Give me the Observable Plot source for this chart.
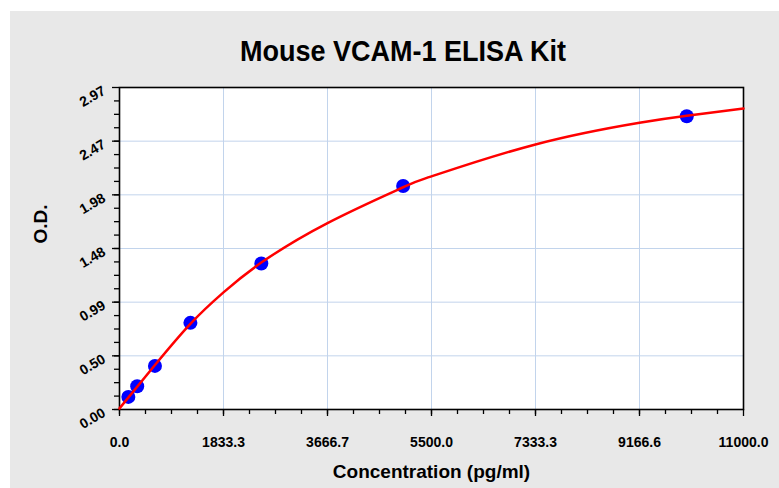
<!DOCTYPE html>
<html><head><meta charset="utf-8">
<script src="https://cdn.jsdelivr.net/npm/d3@7"></script>
<script src="https://cdn.jsdelivr.net/npm/@observablehq/plot@0.6"></script>
<style>
html,body{margin:0;padding:0;background:#fff;}
#wrap{position:relative;width:779px;height:488px;overflow:hidden;}
#panel{position:absolute;left:10px;top:11px;right:0;bottom:0;background:#e8e8e8;}
#title{position:absolute;left:0;width:806px;top:34px;text-align:center;line-height:1;font:bold 30px "Liberation Sans",Arial,sans-serif;color:#000;transform:scaleX(0.9);transform-origin:403px 0;}
#chart{position:absolute;left:0;top:0;}
</style></head>
<body>
<div id="wrap"><div id="panel"></div><div id="chart"></div><div id="title"></div></div>
<script>
// Standards (measured points)
const stdConc = [156, 312, 625, 1250, 2500, 5000, 10000];
const stdOD = [0.116, 0.215, 0.402, 0.799, 1.347, 2.062, 2.705];
// Fitted curve
const curveConc = [0, 625, 1250, 1833, 2500, 3667, 5000, 5500, 7333, 9167, 10000, 11000];
const curveOD = [0.01, 0.41, 0.79, 1.08, 1.355, 1.72, 2.05, 2.15, 2.445, 2.645, 2.71, 2.776];
// Axis ticks and labels
const xTicks = [0, 1833.33, 3666.67, 5500, 7333.33, 9166.67, 11000];
const xLabels = ["0.0", "1833.3", "3666.7", "5500.0", "7333.3", "9166.6", "11000.0"];
const yTicks = [0, 0.495, 0.99, 1.485, 1.98, 2.475, 2.97];
const yLabels = ["0.00", "0.50", "0.99", "1.48", "1.98", "2.47", "2.97"];
const title = "Mouse VCAM-1 ELISA Kit";
const xTitle = "Concentration (pg/ml)";
const yTitle = "O.D.";

const xMinor = d3.range(0, 24).map(i => i * 11000 / 24);
const yMinor = d3.range(0, 24).map(i => i * 2.97 / 24);

const standards = stdConc.map((c, i) => ({c, od: stdOD[i]}));
const curve = curveConc.map((c, i) => ({c, od: curveOD[i]}));

const grid = "#c2d4ec";
const chart = Plot.plot({
  width: 779, height: 488,
  marginLeft: 119, marginRight: 36, marginTop: 87, marginBottom: 79,
  style: {background: "transparent", fontFamily: '"Liberation Sans", Arial, sans-serif', color: "#000", overflow: "visible"},
  x: {domain: [0, 11000]},
  y: {domain: [0, 2.97]},
  marks: [
    Plot.frame({fill: "white", stroke: "none"}),
    Plot.gridX(xTicks.slice(1, -1), {stroke: grid, strokeOpacity: 1, strokeWidth: 1}),
    Plot.gridY(yTicks.slice(1, -1), {stroke: grid, strokeOpacity: 1, strokeWidth: 1}),
    Plot.axisX(xMinor, {tickSize: 5, tickFormat: () => "", label: null, strokeWidth: 1.3}),
    Plot.axisX(xTicks, {tickSize: 7, tickPadding: 21, strokeWidth: 1.3, label: null,
      tickFormat: d => xLabels[xTicks.indexOf(d)], fontSize: 14, fontWeight: "bold"}),
    Plot.axisY(yMinor, {tickSize: 5, tickFormat: () => "", label: null, strokeWidth: 1.3}),
    Plot.axisY(yTicks, {tickSize: 7, tickFormat: () => "", label: null, strokeWidth: 1.3}),
    Plot.text(yTicks, {y: d => d, text: d => yLabels[yTicks.indexOf(d)], frameAnchor: "left",
      dx: -13, dy: 6, rotate: -30, textAnchor: "end", lineAnchor: "bottom", fontSize: 14, fontWeight: "bold"}),
    Plot.frame({stroke: "#000", strokeWidth: 1.6}),
    Plot.dot(standards, {x: "c", y: "od", r: 7, fill: "#0000ff", stroke: "none"}),
    Plot.line(curve, {x: "c", y: "od", stroke: "#ff0000", strokeWidth: 2.5, curve: "natural"}),
    Plot.text([xTitle], {text: d => d, frameAnchor: "bottom", dy: 68, lineAnchor: "bottom", fontSize: 19, fontWeight: "bold"}),
    Plot.text([yTitle], {text: d => d, frameAnchor: "left", dx: -73, dy: -5, rotate: -90, lineAnchor: "bottom", fontSize: 19, fontWeight: "bold"})
  ]
});
document.getElementById("chart").appendChild(chart);
document.getElementById("title").textContent = title;
</script>
</body></html>
